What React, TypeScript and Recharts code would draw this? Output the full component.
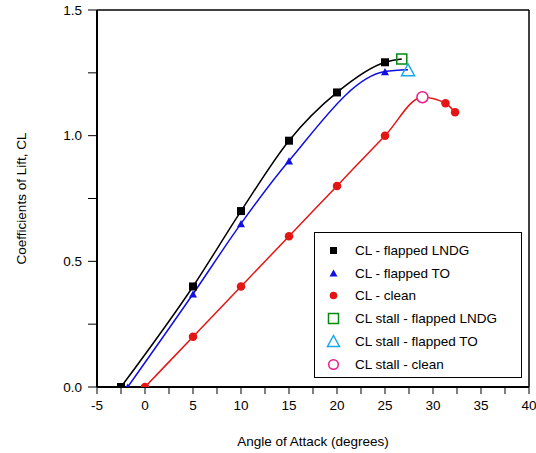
import React from 'react';
import { ComposedChart, Line, Scatter, XAxis, YAxis, ReferenceLine } from 'recharts';

const lndgAoa = [-2.5, 5, 10, 15, 20, 25];
const lndgCl = [0, 0.4, 0.7, 0.98, 1.172, 1.292];
const toAoa = [-1.8, 5, 10, 15, 25];
const toCl = [0, 0.37, 0.65, 0.9, 1.255];
const cleanAoa = [0, 5, 10, 15, 20, 25, 31.3, 32.3];
const cleanCl = [0, 0.2, 0.4, 0.6, 0.8, 1.0, 1.129, 1.093];
const stallLndg = { aoa: 26.75, cl: 1.305 };
const stallTo = { aoa: 27.4, cl: 1.262 };
const stallClean = { aoa: 28.9, cl: 1.153 };

const xTicks = [-5, -2.5, 0, 2.5, 5, 7.5, 10, 12.5, 15, 17.5, 20, 22.5, 25, 27.5, 30, 32.5, 35, 37.5, 40];
const yTicks = [0, 0.25, 0.5, 0.75, 1.0, 1.25, 1.5];

const legendLabels = [
  'CL - flapped LNDG',
  'CL - flapped TO',
  'CL - clean',
  'CL stall - flapped LNDG',
  'CL stall - flapped TO',
  'CL stall - clean',
];

const BLACK = '#000000';
const BLUE = '#1010e0';
const RED = '#e31515';
const GREEN = '#008a10';
const CYAN = '#18a8e8';
const PINK = '#ec1a8c';

const toPts = (xs: number[], ys: number[]) => xs.map((x, i) => ({ x, y: ys[i] }));
const withStall = (xs: number[], ys: number[], s: { aoa: number; cl: number }) =>
  toPts(xs, ys).concat([{ x: s.aoa, y: s.cl }]).sort((a, b) => a.x - b.x);

const lndgPts = toPts(lndgAoa, lndgCl);
const toPtsArr = toPts(toAoa, toCl);
const cleanPts = toPts(cleanAoa, cleanCl);
const lndgLine = withStall(lndgAoa, lndgCl, stallLndg);
const toLine = withStall(toAoa, toCl, stallTo);
const cleanLine = withStall(cleanAoa, cleanCl, stallClean);

const squareShape = (size: number, fill: string, stroke: string, sw: number) => (p: any) => (
  <rect x={p.cx - size / 2} y={p.cy - size / 2} width={size} height={size} fill={fill} stroke={stroke} strokeWidth={sw} />
);
const triShape = (w: number, fill: string, stroke: string, sw: number) => (p: any) => {
  const h = w * 0.9;
  return (
    <polygon
      points={`${p.cx},${p.cy - h / 2} ${p.cx + w / 2},${p.cy + h / 2} ${p.cx - w / 2},${p.cy + h / 2}`}
      fill={fill}
      stroke={stroke}
      strokeWidth={sw}
    />
  );
};
const circShape = (d: number, fill: string, stroke: string, sw: number) => (p: any) => (
  <circle cx={p.cx} cy={p.cy} r={d / 2} fill={fill} stroke={stroke} strokeWidth={sw} />
);

const legendIcons = [
  <rect x={3} y={3} width={7} height={7} fill={BLACK} />,
  <polygon points="6.5,2.5 10.5,9.5 2.5,9.5" fill={BLUE} />,
  <circle cx={6.5} cy={6.5} r={3.8} fill={RED} />,
  <rect x={1.5} y={1.5} width={10} height={10} fill="none" stroke={GREEN} strokeWidth={1.5} />,
  <polygon points="6.5,0.5 12.5,11.5 0.5,11.5" fill="none" stroke={CYAN} strokeWidth={1.5} />,
  <circle cx={6.5} cy={6.5} r={4.8} fill="none" stroke={PINK} strokeWidth={1.5} />,
];

const fmtX = (v: number) => (v % 5 === 0 ? String(v) : '');
const fmtY = (v: number) => (Math.abs((v * 2) % 1) < 1e-9 ? v.toFixed(1) : '');

export default function App() {
  const font = '"Liberation Sans", Arial, sans-serif';
  const fs = 13.5;
  return (
    <div style={{ position: 'absolute', left: 0, top: 0, width: 536, height: 453, fontFamily: font }}>
      <ComposedChart width={536} height={453} margin={{ top: 10, right: 7, bottom: 6, left: 0 }}>
        <XAxis
          type="number"
          dataKey="x"
          domain={[-5, 40]}
          ticks={xTicks}
          tickFormatter={fmtX}
          interval={0}
          allowDataOverflow
          height={60}
          tickSize={7}
          tickMargin={6}
          axisLine={{ stroke: BLACK, strokeWidth: 2 }}
          tickLine={{ stroke: BLACK, strokeWidth: 1 }}
          tick={{ fill: BLACK, fontSize: fs, fontFamily: font }}
          label={{ value: 'Angle of Attack (degrees)', position: 'center', dy: 24, fill: BLACK, fontSize: fs, fontFamily: font }}
        />
        <YAxis
          type="number"
          dataKey="y"
          domain={[0, 1.5]}
          ticks={yTicks}
          tickFormatter={fmtY}
          interval={0}
          allowDataOverflow
          width={97}
          tickSize={9}
          tickMargin={6}
          axisLine={{ stroke: BLACK, strokeWidth: 2 }}
          tickLine={{ stroke: BLACK, strokeWidth: 1 }}
          tick={{ fill: BLACK, fontSize: fs, fontFamily: font }}
          label={{ value: 'Coefficients of Lift, CL', position: 'center', angle: -90, dx: -27, fill: BLACK, fontSize: fs, fontFamily: font }}
        />
        <ReferenceLine y={1.5} stroke={BLACK} strokeWidth={1.5} />
        <ReferenceLine x={40} stroke={BLACK} strokeWidth={1.5} />
        <Line data={lndgLine} dataKey="y" type="monotone" stroke={BLACK} strokeWidth={1.5} dot={false} isAnimationActive={false} />
        <Line data={toLine} dataKey="y" type="monotone" stroke={BLUE} strokeWidth={1.5} dot={false} isAnimationActive={false} />
        <Line data={cleanLine} dataKey="y" type="monotone" stroke={RED} strokeWidth={1.5} dot={false} isAnimationActive={false} />
        <Scatter data={lndgPts} dataKey="y" shape={squareShape(8, BLACK, BLACK, 0)} isAnimationActive={false} />
        <Scatter data={toPtsArr} dataKey="y" shape={triShape(8, BLUE, BLUE, 0)} isAnimationActive={false} />
        <Scatter data={cleanPts} dataKey="y" shape={circShape(8.5, RED, RED, 0)} isAnimationActive={false} />
        <Scatter data={[{ x: stallLndg.aoa, y: stallLndg.cl }]} dataKey="y" shape={squareShape(10, 'none', GREEN, 1.5)} isAnimationActive={false} />
        <Scatter data={[{ x: stallTo.aoa, y: stallTo.cl }]} dataKey="y" shape={triShape(13, 'none', CYAN, 1.5)} isAnimationActive={false} />
        <Scatter data={[{ x: stallClean.aoa, y: stallClean.cl }]} dataKey="y" shape={circShape(11, 'white', PINK, 1.5)} isAnimationActive={false} />
      </ComposedChart>
      <div
        style={{
          position: 'absolute',
          left: 314,
          top: 232,
          width: 208,
          height: 146,
          border: '1.5px solid #000',
          background: '#fff',
          boxSizing: 'border-box',
          paddingTop: 6,
        }}
      >
        {legendLabels.map((t, i) => (
          <div key={t} style={{ display: 'flex', alignItems: 'center', height: 22.8, fontSize: fs, color: BLACK }}>
            <svg width={13} height={13} style={{ marginLeft: 12, marginRight: 15, overflow: 'visible' }}>
              {legendIcons[i]}
            </svg>
            <span>{t}</span>
          </div>
        ))}
      </div>
    </div>
  );
}
